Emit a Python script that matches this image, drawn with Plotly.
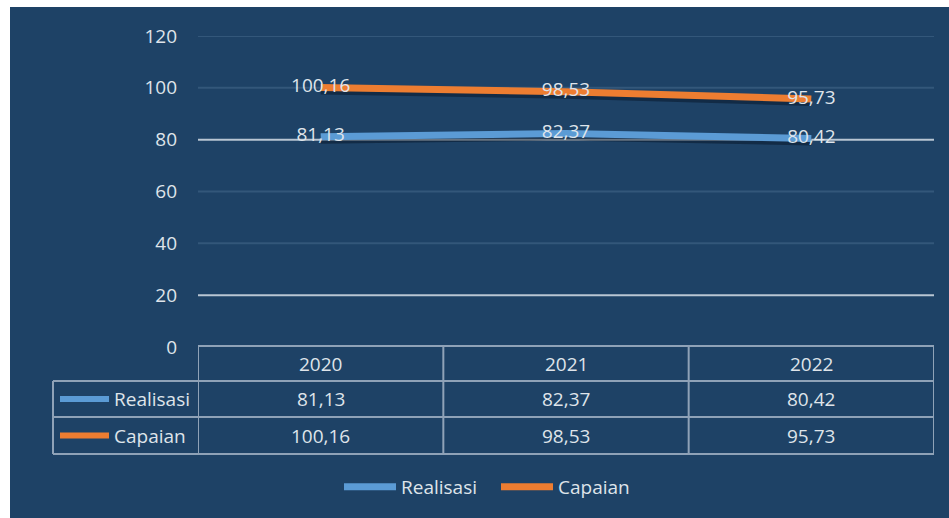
import plotly.graph_objects as go

# Data
years = ["2020", "2021", "2022"]
realisasi = [81.13, 82.37, 80.42]
capaian = [100.16, 98.53, 95.73]
series_names = ["Realisasi", "Capaian"]
series_colors = ["#5b9bd5", "#ed7d31"]
y_ticks = [0, 20, 40, 60, 80, 100, 120]
bright_grid = [20, 80]

W, H = 949, 518
L, R, T, B = 198, 15, 36, 171
PW, PH = W - L - R, H - T - B

NAVY = "#1e4266"
TXT = "#dfe4ea"
BORDER = "#8fa2b7"
GRID_FAINT = "#33577a"
GRID_BRIGHT = "#b9c6d3"
FONT = "Open Sans"
FS = 19


def px_x(px):
    return (px - L) / PW


def px_y(py):
    return (H - B - py) / PH


def fmt(v):
    return f"{v:.2f}".replace(".", ",")


ymax = 120
shadow_shift = 3 * ymax / PH
x_idx = list(range(len(years)))

fig = go.Figure()
all_series = [realisasi, capaian]

# soft drop shadows under the lines
for vals in all_series:
    fig.add_trace(go.Scatter(
        x=x_idx, y=vals, mode="lines", yaxis="y2", showlegend=False,
        hoverinfo="skip",
        line=dict(color="rgba(5,15,30,0.45)", width=8)))

for name, vals, col in zip(series_names, all_series, series_colors):
    fig.add_trace(go.Scatter(
        x=x_idx, y=vals, mode="lines+text", yaxis="y3", name=name,
        text=[fmt(v) for v in vals], textposition="middle center",
        textfont=dict(color=TXT, size=FS, family=FONT),
        line=dict(color=col, width=7)))

shapes = []
# white margins at top and left
shapes.append(dict(type="rect", xref="paper", yref="paper",
                   x0=px_x(-5), x1=px_x(W + 5), y0=px_y(7), y1=px_y(-5),
                   fillcolor="white", line_width=0, layer="below"))
shapes.append(dict(type="rect", xref="paper", yref="paper",
                   x0=px_x(-5), x1=px_x(10), y0=px_y(H + 5), y1=px_y(-5),
                   fillcolor="white", line_width=0, layer="below"))

# horizontal gridlines, two of them brighter
for g in y_ticks[1:]:
    shapes.append(dict(type="line", xref="paper", yref="y", x0=0, x1=1,
                       y0=g, y1=g, layer="below",
                       line=dict(color=GRID_BRIGHT if g in bright_grid else GRID_FAINT,
                                 width=2)))

# data table grid
row_edges = [px_y(346), px_y(381), px_y(417), px_y(454)]
col_edges = [-0.5 + i for i in range(len(years) + 1)]
left_px = 53
bw = 2
# horizontal lines
shapes.append(dict(type="line", xref="x", yref="paper", x0=col_edges[0], x1=col_edges[-1],
                   y0=row_edges[0], y1=row_edges[0], line=dict(color=BORDER, width=bw)))
for ry in row_edges[1:]:
    shapes.append(dict(type="line", xref="paper", yref="paper", x0=px_x(left_px), x1=1,
                       y0=ry, y1=ry, line=dict(color=BORDER, width=bw)))
# vertical lines
for cx in col_edges:
    shapes.append(dict(type="line", xref="x", yref="paper", x0=cx, x1=cx,
                       y0=row_edges[-1], y1=row_edges[0], line=dict(color=BORDER, width=bw)))
shapes.append(dict(type="line", xref="paper", yref="paper", x0=px_x(left_px), x1=px_x(left_px),
                   y0=row_edges[-1], y1=row_edges[1], line=dict(color=BORDER, width=bw)))

annotations = []
afont = dict(color=TXT, size=FS, family=FONT)
hdr_y = (row_edges[0] + row_edges[1]) / 2
for i, yr in enumerate(years):
    annotations.append(dict(x=i, y=hdr_y, xref="x", yref="paper", text=yr,
                            xanchor="center", yanchor="middle",
                            showarrow=False, font=afont))
for r, (name, vals, col) in enumerate(zip(series_names, all_series, series_colors)):
    cy = (row_edges[r + 1] + row_edges[r + 2]) / 2
    shapes.append(dict(type="line", xref="paper", yref="paper", x0=px_x(60), x1=px_x(109),
                       y0=cy, y1=cy, line=dict(color=col, width=6)))
    annotations.append(dict(x=px_x(112), y=cy, xref="paper", yref="paper", text=name,
                            xanchor="left", yanchor="middle", showarrow=False,
                            font=afont))
    for i, v in enumerate(vals):
        annotations.append(dict(x=i, y=cy, xref="x", yref="paper", text=fmt(v),
                                xanchor="center", yanchor="middle",
                                showarrow=False, font=afont))

fig.update_layout(
    width=W, height=H,
    margin=dict(l=L, r=R, t=T, b=B),
    paper_bgcolor=NAVY, plot_bgcolor="rgba(0,0,0,0)",
    font=dict(family=FONT, color=TXT, size=FS),
    xaxis=dict(range=[-0.5, len(years) - 0.5], showgrid=False, zeroline=False,
               showticklabels=False, fixedrange=True),
    yaxis=dict(range=[0, ymax], tickvals=y_ticks, showgrid=False, zeroline=False,
               ticklabelstandoff=20, tickfont=afont, fixedrange=True),
    yaxis2=dict(range=[shadow_shift, ymax + shadow_shift], overlaying="y",
                visible=False, fixedrange=True),
    yaxis3=dict(range=[0, ymax], overlaying="y", visible=False, fixedrange=True),
    showlegend=True,
    legend=dict(orientation="h", x=px_x(339), y=px_y(487), xanchor="left",
                yanchor="middle", font=afont, entrywidth=90,
                bgcolor="rgba(0,0,0,0)", itemwidth=52),
    shapes=shapes,
    annotations=annotations,
)

fig.write_html("out.html")
